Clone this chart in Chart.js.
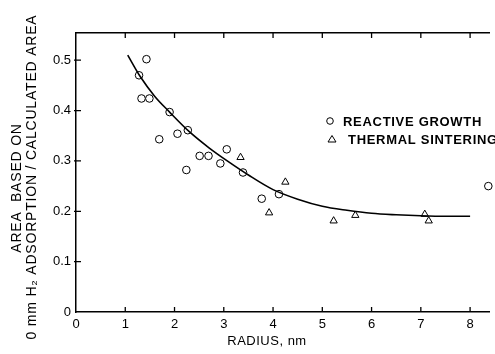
<!DOCTYPE html>
<html>
<head>
<meta charset="utf-8">
<script src="https://cdn.jsdelivr.net/npm/chart.js@4.4.1/dist/chart.umd.min.js"></script>
<style>
    html, body { margin: 0; padding: 0; background: #fff; overflow: hidden; }
    #chart { display: block; }
</style>
</head>
<body>
<canvas id="chart" width="495" height="354"></canvas>
<script>
/* =============================
   DATA
============================= */

const growthX = [1.28, 1.43, 1.33, 1.49, 1.90, 2.27, 2.06, 1.69, 3.06, 2.51, 2.69, 2.93, 2.24, 3.39, 3.77, 4.12, 8.37];
const growthY = [0.470, 0.502, 0.424, 0.424, 0.397, 0.361, 0.354, 0.343, 0.323, 0.310, 0.310, 0.295, 0.282, 0.277, 0.225, 0.234, 0.250];

const sinterX = [3.34, 3.92, 4.25, 5.23, 5.67, 7.08, 7.16];
const sinterY = [0.307, 0.197, 0.258, 0.181, 0.192, 0.194, 0.181];

const curveX = [1.05, 1.3, 1.6, 1.9, 2.3, 2.7, 3.1, 3.5, 4.0, 4.5, 5.0, 5.5, 6.0, 6.5, 7.0, 7.5, 8.0];
const curveY = [0.510, 0.468, 0.428, 0.397, 0.358, 0.326, 0.298, 0.272, 0.243, 0.224, 0.210, 0.202, 0.196, 0.193, 0.191, 0.190, 0.190];

const xTicks = [0, 1, 2, 3, 4, 5, 6, 7, 8];
const yTicks = [0, 0.1, 0.2, 0.3, 0.4, 0.5];

const legendLabels = ["REACTIVE GROWTH", "THERMAL SINTERING"];
const xTitle = "RADIUS, nm";
const yTitleLines = ["AREA  BASED ON", "0 mm H\u2082 ADSORPTION / CALCULATED AREA"];

const toPoints = (xs, ys) => xs.map((x, i) => ({ x: x, y: ys[i] }));

const FONT = "'Liberation Sans', Arial, sans-serif";

/* =============================
   TICK MARKS / LEGEND / TITLES
============================= */

const figureDecor = {
    id: "figureDecor",
    afterDraw(chart) {
        const ctx = chart.ctx;
        const xs = chart.scales.x;
        const ys = chart.scales.y;
        const area = chart.chartArea;

        ctx.save();
        ctx.strokeStyle = "#000";
        ctx.lineWidth = 1.3;
        ctx.beginPath();
        xTicks.forEach(v => {
            if (v === 0) return;
            const px = xs.getPixelForValue(v);
            ctx.moveTo(px, area.bottom);
            ctx.lineTo(px, area.bottom - 5);
            ctx.moveTo(px, area.top);
            ctx.lineTo(px, area.top + 5);
        });
        yTicks.forEach(v => {
            if (v === 0) return;
            const py = ys.getPixelForValue(v);
            ctx.moveTo(area.left - 2, py);
            ctx.lineTo(area.left + 5, py);
        });
        ctx.stroke();

        /* legend */
        ctx.fillStyle = "#000";
        ctx.font = "bold 13px " + FONT;
        ctx.textBaseline = "middle";
        ctx.textAlign = "left";
        ctx.letterSpacing = "0.7px";
        ctx.lineWidth = 1;
        ctx.beginPath();
        ctx.arc(330, 121, 3.3, 0, Math.PI * 2);
        ctx.stroke();
        ctx.fillText(legendLabels[0], 343, 122);
        ctx.beginPath();
        ctx.moveTo(332, 135.5);
        ctx.lineTo(336, 142);
        ctx.lineTo(328, 142);
        ctx.closePath();
        ctx.stroke();
        ctx.fillText(legendLabels[1], 348, 140);

        /* axis titles */
        ctx.letterSpacing = "0.5px";
        ctx.font = "13px " + FONT;
        ctx.textAlign = "center";
        ctx.fillText(xTitle, 267, 341);

        ctx.font = "14px " + FONT;
        ctx.letterSpacing = "0.8px";
        ctx.save();
        ctx.translate(17, 188);
        ctx.rotate(-Math.PI / 2);
        ctx.fillText(yTitleLines[0], 0, 0);
        ctx.restore();
        ctx.save();
        ctx.translate(32, 177);
        ctx.rotate(-Math.PI / 2);
        ctx.fillText(yTitleLines[1], 0, 0);
        ctx.restore();
        ctx.restore();
    }
};

/* =============================
   CHART
============================= */

new Chart(document.getElementById("chart"), {
    type: "scatter",
    data: {
        datasets: [
            {
                type: "line",
                data: toPoints(curveX, curveY),
                borderColor: "#000",
                borderWidth: 1.6,
                pointRadius: 0,
                cubicInterpolationMode: "monotone",
                fill: false
            },
            {
                data: toPoints(growthX, growthY),
                pointStyle: "circle",
                pointRadius: 3.8,
                pointBackgroundColor: "#fff",
                pointBorderColor: "#000",
                pointBorderWidth: 1,
                clip: false
            },
            {
                data: toPoints(sinterX, sinterY),
                pointStyle: "triangle",
                pointRadius: 4.2,
                pointBackgroundColor: "#fff",
                pointBorderColor: "#000",
                pointBorderWidth: 1,
                clip: false
            }
        ]
    },
    options: {
        responsive: false,
        animation: false,
        devicePixelRatio: 1,
        layout: { padding: 0 },
        plugins: {
            legend: { display: false },
            tooltip: { enabled: false }
        },
        scales: {
            x: {
                type: "linear",
                position: "bottom",
                min: 0,
                max: 8.4,
                afterFit: s => { s.height = 42; },
                afterBuildTicks: s => { s.ticks = xTicks.map(v => ({ value: v })); },
                grid: { drawOnChartArea: false, drawTicks: false },
                border: { display: true, color: "#000", width: 1.5 },
                ticks: {
                    color: "#000",
                    padding: 5,
                    font: { family: FONT, size: 13 },
                    callback: v => String(v)
                }
            },
            x2: {
                type: "linear",
                position: "top",
                min: 0,
                max: 8.4,
                afterFit: s => { s.height = 33; },
                grid: { drawOnChartArea: false, drawTicks: false },
                border: { display: true, color: "#000", width: 1.5 },
                ticks: { display: false }
            },
            y: {
                type: "linear",
                min: 0,
                max: 0.554,
                afterFit: s => { s.width = 76; },
                afterBuildTicks: s => { s.ticks = yTicks.map(v => ({ value: v })); },
                grid: { drawOnChartArea: false, drawTicks: false },
                border: { display: true, color: "#000", width: 1.5 },
                ticks: {
                    color: "#000",
                    padding: 5,
                    font: { family: FONT, size: 13 },
                    callback: v => (v === 0 ? "0" : v.toFixed(1))
                }
            }
        }
    },
    plugins: [figureDecor]
});
</script>
</body>
</html>
